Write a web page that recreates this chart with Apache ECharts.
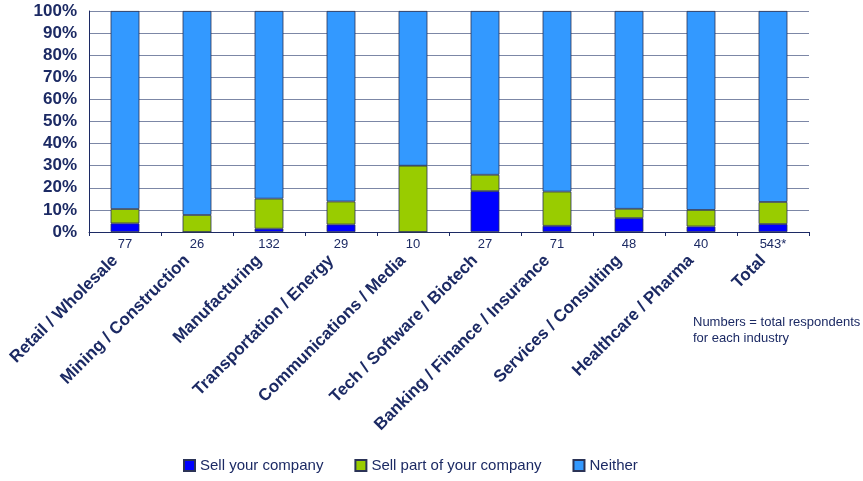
<!DOCTYPE html>
<html><head><meta charset="utf-8">
<script src="https://cdn.jsdelivr.net/npm/echarts@6/dist/echarts.min.js"></script>
<style>html,body{margin:0;padding:0;background:#fff}#c{width:863px;height:481px}</style>
</head><body><div id="c"></div>
<script>
const categories = ["Retail / Wholesale","Mining / Construction","Manufacturing","Transportation / Energy","Communications / Media","Tech / Software / Biotech","Banking / Finance / Insurance","Services / Consulting","Healthcare / Pharma","Total"];
const respondents = ["77","26","132","29","10","27","71","48","40","543*"];
const sellCompany = [3.9, 0, 1.5, 3.4, 0, 18.5, 2.8, 6.3, 2.5, 3.6];
const sellPart = [6.5, 7.7, 13.6, 10.4, 30, 7.4, 15.5, 4.2, 7.5, 10.0];
const neither = [89.6, 92.3, 84.9, 86.2, 70, 74.1, 81.7, 89.5, 90.0, 86.4];
const yTicks = [0,10,20,30,40,50,60,70,80,90,100];

const navy = '#1c2a64';
const chart = echarts.init(document.getElementById('c'));
const border = {borderColor:'#2b3356', borderWidth:0.8};
chart.setOption({
  animation:false,
  grid:{left:89,right:54,top:11,bottom:249,containLabel:false},
  legend:{
    left:178, top:453, itemWidth:11, itemHeight:11, itemGap:31, icon:'rect',
    textStyle:{fontFamily:'Liberation Sans, Arial', fontSize:15, color:navy},
    data:['Sell your company','Sell part of your company','Neither']
  },
  xAxis:[
    {type:'category', data:respondents,
     axisLine:{lineStyle:{color:navy,width:1}},
     axisTick:{show:true,length:4,lineStyle:{color:navy}},
     axisLabel:{margin:6,fontFamily:'Liberation Sans, Arial',fontSize:13,color:navy}},
    {type:'category', data:categories, position:'bottom',
     axisLine:{show:false}, axisTick:{show:false},
     axisLabel:{margin:16, padding:[0,14,0,0], rotate:45, interval:0, fontFamily:'Liberation Sans, Arial', fontWeight:'bold', fontSize:17, color:navy}}
  ],
  yAxis:{type:'value', min:0, max:100, interval:10,
    axisLine:{show:true,lineStyle:{color:navy,width:1}},
    axisTick:{show:false},
    splitLine:{lineStyle:{color:'#7c87a6',width:1}},
    axisLabel:{formatter:v=>v+'%', margin:12, fontFamily:'Liberation Sans, Arial', fontWeight:'bold', fontSize:17, color:navy}
  },
  graphic:[{type:'text', left:693, top:314, style:{text:'Numbers = total respondents\nfor each industry', font:'13px Liberation Sans, Arial', fill:navy, lineHeight:16}}],
  series:[
    {name:'Sell your company', type:'bar', stack:'s', barWidth:'40%', data:sellCompany, itemStyle:Object.assign({color:'#0000ff'},border)},
    {name:'Sell part of your company', type:'bar', stack:'s', data:sellPart, itemStyle:Object.assign({color:'#99cc00'},border)},
    {name:'Neither', type:'bar', stack:'s', data:neither, itemStyle:Object.assign({color:'#3399ff'},border)}
  ]
});
</script></body></html>
